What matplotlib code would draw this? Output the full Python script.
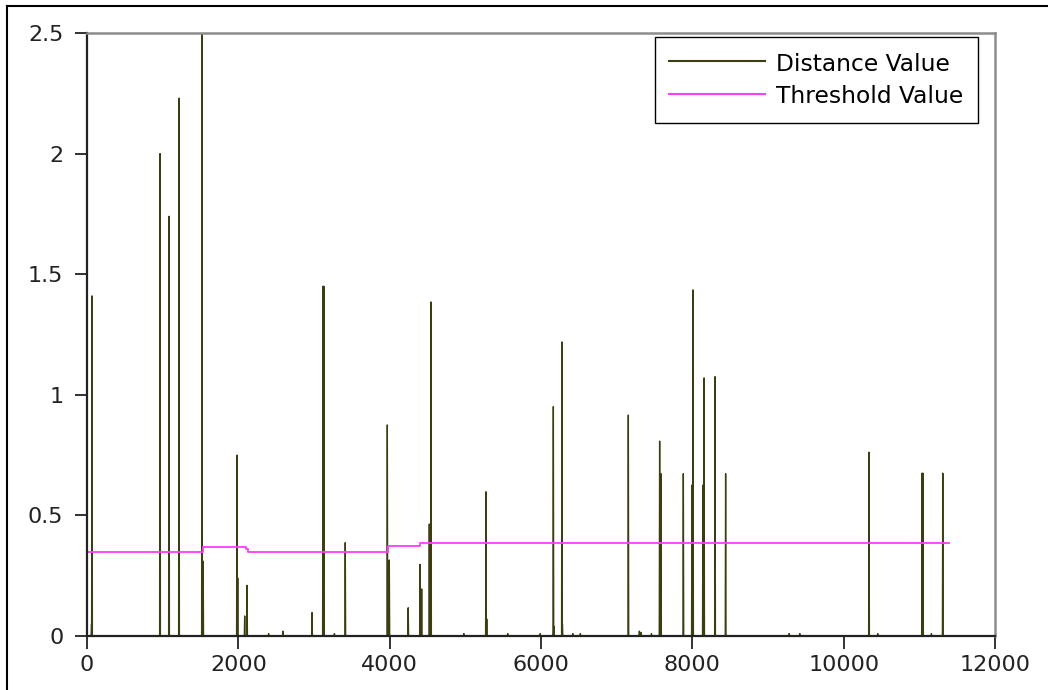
import matplotlib
matplotlib.use('Agg')
import matplotlib.pyplot as plt
from matplotlib.lines import Line2D
import numpy as np

# distance spikes: position and peak value
dist_x = [60, 66, 965, 1084, 1216, 1520, 1535, 1982, 1992, 2084, 2115,
          2400, 2590, 2974, 3119, 3130, 3270, 3413, 3969, 3995, 4245,
          4401, 4423, 4524, 4546, 4980, 5273, 5283, 5560, 5990, 6163,
          6170, 6277, 6283, 6420, 6520, 7154, 7300, 7320, 7460, 7568,
          7573, 7585, 7881, 7995, 8009, 8140, 8155, 8300, 8440, 9280,
          9420, 10335, 10450, 11036, 11048, 11160, 11310]
dist_y = [0.05, 1.41, 2.0, 1.74, 2.23, 2.5, 0.31, 0.75, 0.24, 0.083, 0.21,
          0.01, 0.02, 0.097, 1.45, 1.45, 0.01, 0.387, 0.875, 0.315, 0.117,
          0.297, 0.195, 0.464, 1.385, 0.01, 0.598, 0.07, 0.01, 0.01, 0.951,
          0.04, 1.219, 0.05, 0.01, 0.01, 0.916, 0.02, 0.015, 0.01, 0.808,
          0.673, 0.673, 0.673, 0.626, 1.435, 0.626, 1.07, 1.075, 0.673, 0.01,
          0.01, 0.762, 0.01, 0.675, 0.675, 0.01, 0.675]
x_end = 11400

# threshold steps
thr_x = [0, 1537, 2097, 2124, 3982, 4401, 11397]
thr_y = [0.347, 0.368, 0.362, 0.3495, 0.373, 0.384, 0.384]


def spikeSeries(xs, ys, half=5):
	px = [0]
	py = [0]
	for x, y in zip(xs, ys):
		px += [x - half, x, x + half]
		py += [0, y, 0]
	px.append(x_end)
	py.append(0)
	return np.array(px), np.array(py)


def main():
	plt.rcParams['font.family'] = 'DejaVu Sans'
	fig = plt.figure(figsize=(10.48, 6.9), dpi=100)
	ax = fig.add_axes([87/1048, 1-636/690, 908/1048, 603/690])

	sx, sy = spikeSeries(dist_x, dist_y)
	ax.plot(sx, sy, color='#3d3d12', lw=1.0, label='Distance Value')
	ax.plot(thr_x, thr_y, drawstyle='steps-post', color='#ff3cff', lw=1.3,
		label='Threshold Value')

	ax.set_xlim(0, 12000)
	ax.set_ylim(0, 2.5)
	ax.set_xticks([0, 2000, 4000, 6000, 8000, 10000, 12000])
	ax.set_yticks([0, 0.5, 1, 1.5, 2, 2.5])
	ax.set_yticklabels(['0', '0.5', '1', '1.5', '2', '2.5'])
	ax.tick_params(direction='out', length=9, width=1.3, labelsize=16,
		colors='#222222')
	ax.tick_params(axis='y', pad=8)
	ax.tick_params(axis='x', pad=5)

	for s in ['left', 'bottom']:
		ax.spines[s].set_color('#222222')
		ax.spines[s].set_linewidth(1.6)
	for s in ['top', 'right']:
		ax.spines[s].set_color('#8c8c8c')
		ax.spines[s].set_linewidth(1.8)

	leg = ax.legend(loc='upper right', bbox_to_anchor=(0.9813, 0.9934),
		borderaxespad=0, fontsize=16.8, fancybox=False, framealpha=1,
		handlelength=4.1, handleheight=1.15, handletextpad=0.5,
		labelspacing=0.34, borderpad=0.62)
	leg.get_frame().set_edgecolor('black')
	leg.get_frame().set_linewidth(1.0)
	for ln in leg.get_lines():
		ln.set_linewidth(1.5)

	# outer frame of the window (left and top edges visible)
	fig.add_artist(Line2D([7/1048, 7/1048], [0, 1-6/690], color='black', lw=1.5))
	fig.add_artist(Line2D([7/1048, 1], [1-6/690, 1-6/690], color='black', lw=1.5))

	plt.savefig('out.png', dpi=100)


if __name__ == '__main__':
	main()
